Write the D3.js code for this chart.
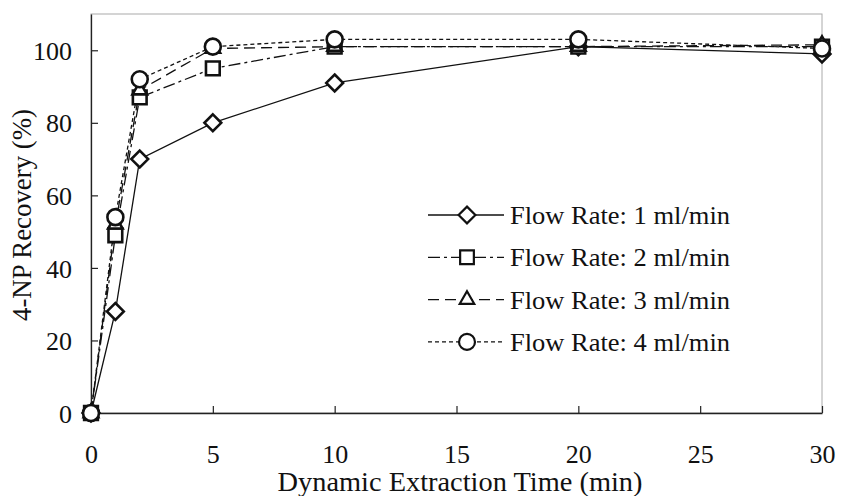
<!DOCTYPE html>
<html>
<head>
<meta charset="utf-8">
<script src="https://cdn.jsdelivr.net/npm/d3@7"></script>
<style>
  html, body { margin: 0; padding: 0; background: #fff; }
  svg { display: block; }
  text { font-family: "Liberation Serif", "Times New Roman", serif; fill: #111; }
</style>
</head>
<body>
<svg id="chart" width="848" height="496"></svg>
<script>
const times = [0, 1, 2, 5, 10, 20, 30];
const flow1 = [0, 28, 70, 80, 91, 101, 99];
const flow2 = [0, 49, 87, 95, 101, 101, 101];
const flow3 = [0, 52, 89, 100.5, 101, 101, 101.5];
const flow4 = [0, 54, 92, 101, 103, 103, 100.5];
const seriesNames = ["Flow Rate: 1 ml/min", "Flow Rate: 2 ml/min", "Flow Rate: 3 ml/min", "Flow Rate: 4 ml/min"];
const xTicks = [0, 5, 10, 15, 20, 25, 30];
const yTicks = [0, 20, 40, 60, 80, 100];

const series = [
  { name: seriesNames[0], values: flow1, symbol: "diamond", dash: null },
  { name: seriesNames[1], values: flow2, symbol: "square", dash: "12,4,3,4" },
  { name: seriesNames[2], values: flow3, symbol: "triangle", dash: "11,6" },
  { name: seriesNames[3], values: flow4, symbol: "circle", dash: "4,3" }
];

const svg = d3.select("#chart");
const m = { left: 91, right: 26, top: 14, bottom: 83 };
const W = 848, H = 496;
const x = d3.scaleLinear().domain([0, 30]).range([m.left, W - m.right]);
const y = d3.scaleLinear().domain([0, 110]).range([H - m.bottom, m.top]);

// frame
svg.append("rect")
  .attr("x", m.left).attr("y", m.top)
  .attr("width", x(30) - m.left).attr("height", y(0) - m.top)
  .attr("fill", "none").attr("stroke", "#aaa").attr("stroke-width", 1);

// axes
const xAxis = svg.append("g").attr("transform", `translate(0,${y(0)})`)
  .call(d3.axisBottom(x).tickValues(xTicks).tickSizeInner(-7).tickSizeOuter(0));
const yAxis = svg.append("g").attr("transform", `translate(${m.left},0)`)
  .call(d3.axisLeft(y).tickValues(yTicks).tickSizeInner(-7).tickSizeOuter(0));
[xAxis, yAxis].forEach(g => {
  g.select(".domain").attr("stroke", "#222").attr("stroke-width", 1.3);
  g.selectAll(".tick line").attr("stroke", "#222").attr("stroke-width", 1.2);
  g.selectAll(".tick text").style("font-family", '"Liberation Serif", serif').style("font-size", "26px").attr("fill", "#111");
});
xAxis.selectAll(".tick text").attr("y", 50).attr("dy", null);
yAxis.selectAll(".tick text").attr("x", -19).attr("dy", "0.35em");

// axis titles
svg.append("text").attr("x", 460).attr("y", 491)
  .attr("text-anchor", "middle").style("font-size", "27px")
  .attr("textLength", 365).attr("lengthAdjust", "spacingAndGlyphs")
  .text("Dynamic Extraction Time (min)");
svg.append("text").attr("transform", `translate(31,215) rotate(-90)`)
  .attr("text-anchor", "middle").style("font-size", "27px")
  .attr("textLength", 212).attr("lengthAdjust", "spacingAndGlyphs")
  .text("4-NP Recovery (%)");

const symMap = {
  diamond: d3.symbol().type(d3.symbolDiamond2).size(180),
  square: d3.symbol().type(d3.symbolSquare2).size(240),
  triangle: d3.symbol().type(d3.symbolTriangle2).size(150),
  circle: d3.symbol().type(d3.symbolCircle).size(200)
};

const line = d3.line().x(d => x(d[0])).y(d => y(d[1]));

// lines
series.forEach(s => {
  const pts = times.map((t, i) => [t, s.values[i]]);
  svg.append("path").datum(pts).attr("d", line)
    .attr("fill", "none").attr("stroke", "#111").attr("stroke-width", 1.3)
    .attr("stroke-dasharray", s.dash);
});
// markers
series.forEach(s => {
  const pts = times.map((t, i) => [t, s.values[i]]);
  svg.append("g").selectAll("path").data(pts).join("path")
    .attr("transform", d => `translate(${x(d[0])},${y(d[1])})`)
    .attr("d", symMap[s.symbol]())
    .attr("fill", "#fff").attr("stroke", "#111").attr("stroke-width", 2.6);
});

// legend
const leg = svg.append("g");
series.forEach((s, i) => {
  const cy = 215 + i * 42.3;
  leg.append("line").attr("x1", 428).attr("x2", 504).attr("y1", cy).attr("y2", cy)
    .attr("stroke", "#111").attr("stroke-width", 1.3).attr("stroke-dasharray", s.dash);
  leg.append("path").attr("transform", `translate(467,${cy})`)
    .attr("d", symMap[s.symbol]()).attr("fill", "#fff").attr("stroke", "#111").attr("stroke-width", 2.2);
  leg.append("text").attr("x", 510).attr("y", cy).attr("dy", "0.35em")
    .style("font-size", "26px")
    .attr("textLength", 220).attr("lengthAdjust", "spacingAndGlyphs")
    .text(s.name);
});
</script>
</body>
</html>
